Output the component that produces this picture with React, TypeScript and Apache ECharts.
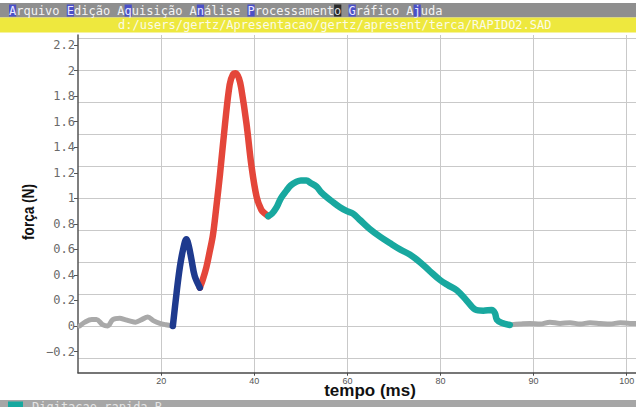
import React, { useEffect, useRef } from "react";
import * as echarts from "echarts";

// ---- axis ticks ----
const xTickValues = [20, 40, 60, 80, 100, 120];
const xTickLabels = ["20", "40", "60", "80", "90", "100"];
const yLabelValues = [-0.2, 0, 0.2, 0.4, 0.6, 0.8, 1, 1.2, 1.4, 1.6, 1.8, 2, 2.2];
const yGridValues = [-0.25, 0, 0.25, 0.5, 0.75, 1, 1.25, 1.5, 1.75, 2, 2.25];

// ---- texts ----
const menuText =
  "{h|A}rquivo {h|E}dição A{h|q}uisição A{h|n}álise {h|P}rocessament{k|o} {h|G}ráfico A{h|j}uda";
const filePath = "d:/users/gertz/Apresentacao/gertz/apresent/terca/RAPIDO2.SAD";
const statusText = "Digitacao rapida B";
const xTitle = "tempo (ms)";
const yTitle = "força (N)";

// ---- series: [tempo, força] ----
const baselineStart: [number, number][] = [
  [2.5, 0.0], [3.6, 0.03], [5.1, 0.05], [6.1, 0.05], [7.4, 0.01], [8.5, 0.0],
  [9.6, 0.05], [11.1, 0.06], [12.2, 0.05], [13.2, 0.04], [14.5, 0.03], [15.8, 0.05],
  [17.1, 0.07], [18.4, 0.04], [19.7, 0.02], [21.0, 0.01], [22.5, 0.0],
];
const phaseBlue: [number, number][] = [
  [22.5, 0.0], [23.3, 0.26], [24.0, 0.46], [24.7, 0.6], [25.4, 0.68], [25.9, 0.63],
  [26.5, 0.52], [27.2, 0.39], [28.3, 0.3],
];
const phaseRed: [number, number][] = [
  [28.3, 0.3], [28.9, 0.36], [29.7, 0.46], [30.4, 0.58], [31.1, 0.71], [31.8, 0.92],
  [32.6, 1.18], [33.7, 1.58], [34.7, 1.89], [35.4, 1.97], [36.0, 1.98], [36.7, 1.94],
  [37.2, 1.86], [38.3, 1.59], [39.4, 1.25], [40.5, 1.01], [41.5, 0.91], [42.3, 0.88],
  [43.0, 0.86],
];
const phaseTeal: [number, number][] = [
  [43.0, 0.86], [43.8, 0.88], [44.8, 0.93], [45.7, 1.0], [46.9, 1.06], [47.8, 1.1],
  [49.1, 1.13], [50.0, 1.14], [51.2, 1.14], [52.1, 1.12], [53.4, 1.09], [54.3, 1.05],
  [55.5, 1.01], [56.9, 0.97], [58.4, 0.93], [59.9, 0.9], [61.2, 0.88], [62.7, 0.83],
  [64.8, 0.76], [67.0, 0.7], [69.1, 0.65], [71.3, 0.6], [73.4, 0.56], [75.6, 0.5],
  [77.7, 0.43], [79.9, 0.36], [81.6, 0.32], [83.5, 0.28], [85.6, 0.2], [87.4, 0.13],
  [89.2, 0.12], [91.0, 0.125], [91.7, 0.1], [92.1, 0.05], [93.1, 0.026], [94.9, 0.008],
];
const baselineEnd: [number, number][] = [
  [94.9, 0.008], [97.1, 0.015], [99.2, 0.02], [101.4, 0.015], [103.5, 0.03],
  [105.7, 0.02], [107.8, 0.025], [110.0, 0.015], [112.1, 0.025], [114.3, 0.02],
  [116.4, 0.015], [118.6, 0.025], [120.7, 0.02], [122.0, 0.02],
];

const MONO = '"DejaVu Sans Mono", monospace';

function line(data: [number, number][], color: string, width: number, z: number) {
  return {
    type: "line",
    data,
    showSymbol: false,
    smooth: 0.35,
    silent: true,
    z,
    lineStyle: { color, width, cap: "round", join: "round" },
  };
}

export default function App() {
  const ref = useRef<HTMLDivElement>(null);
  useEffect(() => {
    const chart = echarts.init(ref.current!, null, { renderer: "svg" });
    const option: any = {
      animation: false,
      backgroundColor: "#ffffff",
      grid: { left: 78, right: 0, top: 35, bottom: 34.3, containLabel: false, outerBoundsMode: "none" },
      xAxis: {
        type: "value",
        min: 2.12,
        max: 122,
        axisLine: { show: true, onZero: false, lineStyle: { color: "#4a4a4a", width: 1.5 } },
        axisTick: { show: true, length: 3, customValues: xTickValues, lineStyle: { color: "#4a4a4a" } },
        axisLabel: {
          customValues: xTickValues,
          margin: 4,
          color: "#555",
          fontSize: 9,
          fontFamily: '"Liberation Sans", sans-serif',
          formatter: (v: number) => xTickLabels[xTickValues.indexOf(Math.round(v))] ?? "",
        },
        splitLine: { show: true, lineStyle: { color: "#c9c9c9", width: 1 } },
      },
      yAxis: [
        {
          type: "value",
          min: -0.366,
          max: 2.279,
          axisLine: { show: true, onZero: false, lineStyle: { color: "#555", width: 1.5 } },
          axisTick: { show: true, length: 4, customValues: yLabelValues, lineStyle: { color: "#555" } },
          axisLabel: {
            customValues: yLabelValues,
            margin: 3,
            color: "#6a6a6a",
            fontSize: 12,
            fontFamily: MONO,
            formatter: (v: number) => String(Math.round(v * 10) / 10).replace("-", "−"),
          },
          splitLine: { show: false },
        },
        {
          type: "value",
          min: -0.366,
          max: 2.279,
          position: "left",
          axisLine: { show: false },
          axisTick: { show: false, customValues: yGridValues },
          axisLabel: { show: false, customValues: yGridValues },
          splitLine: { show: true, lineStyle: { color: "#c9c9c9", width: 1 } },
        },
      ],
      series: [
        line(baselineStart, "#a9a9a9", 5, 2),
        line(baselineEnd, "#a9a9a9", 5, 2),
        line(phaseRed, "#e4463a", 6.5, 3),
        line(phaseBlue, "#1e3a8e", 6.5, 4),
        line(phaseTeal, "#18a89f", 6.5, 4),
      ],
      graphic: [
        { type: "rect", shape: { x: 0, y: 3, width: 636, height: 14.5 }, style: { fill: "#8f8f8f" }, z: 10 },
        { type: "rect", shape: { x: 0, y: 17.5, width: 636, height: 15 }, style: { fill: "#eee83e" }, z: 10 },
        {
          type: "text",
          x: 9,
          y: 10.5,
          z: 11,
          style: {
            text: menuText,
            fill: "#f4f4f4",
            font: "12px " + MONO,
            textVerticalAlign: "middle",
            rich: {
              h: { fill: "#e8e8ff", backgroundColor: "#4b50c6", fontSize: 12, fontFamily: MONO },
              k: { fill: "#dddddd", backgroundColor: "#2a2a2a", fontSize: 12, fontFamily: MONO },
            },
          },
        },
        {
          type: "text",
          x: 118,
          y: 25,
          z: 11,
          style: {
            text: filePath,
            fill: "#fbfbe6",
            font: "12px " + MONO,
            textVerticalAlign: "middle",
          },
        },
        { type: "rect", shape: { x: 0, y: 400, width: 636, height: 7 }, style: { fill: "#a6a6a6" }, z: 10 },
        { type: "rect", shape: { x: 8, y: 401.5, width: 15, height: 5.5 }, style: { fill: "#17a89f" }, z: 11 },
        {
          type: "text",
          x: 32,
          y: 400.5,
          z: 11,
          style: { text: statusText, fill: "#e4e4e4", font: "12px " + MONO, textVerticalAlign: "top" },
        },
        {
          type: "text",
          x: 370,
          y: 390,
          z: 11,
          style: {
            text: xTitle,
            fill: "#111",
            font: 'bold 17px "Liberation Sans", Arial, sans-serif',
            textAlign: "center",
            textVerticalAlign: "middle",
          },
        },
        {
          type: "text",
          x: 28,
          y: 212,
          rotation: Math.PI / 2,
          scaleX: 0.8,
          z: 11,
          style: {
            text: yTitle,
            fill: "#111",
            font: 'bold 17px "Liberation Sans", Arial, sans-serif',
            textAlign: "center",
            textVerticalAlign: "middle",
          },
        },
      ],
    };
    chart.setOption(option);
    return () => chart.dispose();
  }, []);
  return (
    <div
      ref={ref}
      style={{ position: "absolute", left: 0, top: 0, width: 636, height: 407, background: "#fff" }}
    />
  );
}
